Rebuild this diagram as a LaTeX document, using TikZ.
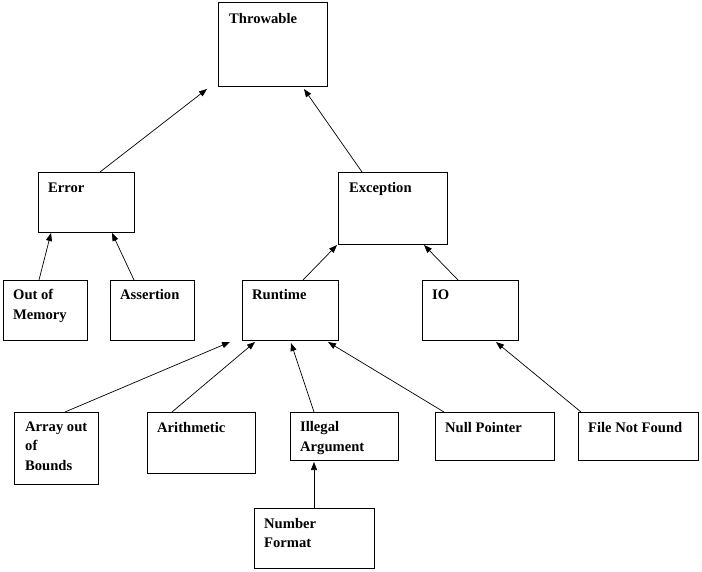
\documentclass[tikz,border=0pt]{standalone}
\usepackage{fontspec}
\setmainfont{Liberation Serif}
\usetikzlibrary{arrows.meta}
\begin{document}
\begin{tikzpicture}[x=1pt,y=-1pt,
  box/.style={draw=black,line width=0.9pt,anchor=north west,inner sep=0pt,outer sep=0pt},
  lbl/.style={anchor=base west,inner sep=0pt,align=left,font=\fontsize{14.6}{19.5}\selectfont\bfseries},
  conn/.style={draw=black,line width=0.7pt,-{Triangle[length=8pt,width=6pt]}}]
\useasboundingbox[fill=white] (0,0) rectangle (702,572);
% boxes
\node[box,minimum width=109pt,minimum height=84pt] (thr) at (218,2) {};
\node[box,minimum width=96pt,minimum height=60pt] (err) at (38,172) {};
\node[box,minimum width=109pt,minimum height=72pt] (exc) at (338,172) {};
\node[box,minimum width=84pt,minimum height=60pt] (oom) at (3,280) {};
\node[box,minimum width=84pt,minimum height=60pt] (ass) at (110,280) {};
\node[box,minimum width=96pt,minimum height=60pt] (run) at (242,280) {};
\node[box,minimum width=96pt,minimum height=60pt] (io) at (422,280) {};
\node[box,minimum width=84pt,minimum height=72pt] (arr) at (14,412) {};
\node[box,minimum width=108pt,minimum height=61pt] (ari) at (147,412) {};
\node[box,minimum width=108pt,minimum height=48pt] (ill) at (290,412) {};
\node[box,minimum width=119pt,minimum height=48pt] (nul) at (435,412) {};
\node[box,minimum width=120pt,minimum height=48pt] (fnf) at (578,412) {};
\node[box,minimum width=120pt,minimum height=60pt] (num) at (254,508) {};
% labels (anchor = baseline of the last line)
\node[lbl] (thrT) at (229,24) {Throwable};
\node[lbl] (errT) at (48,193) {Error};
\node[lbl] (excT) at (349,193) {Exception};
\node[lbl] (oomT) at (13,319.5) {Out of\\Memory};
\node[lbl] (assT) at (120,300) {Assertion};
\node[lbl] (runT) at (252,300) {Runtime};
\node[lbl] (ioT) at (432,300) {IO};
\node[lbl] (arrT) at (25,470) {Array out\\of\\Bounds};
\node[lbl] (ariT) at (157,432) {Arithmetic};
\node[lbl] (illT) at (300,451) {Illegal\\Argument};
\node[lbl] (nulT) at (445,432) {Null Pointer};
\node[lbl] (fnfT) at (588,432) {File Not Found};
\node[lbl] (numT) at (264,547.5) {Number\\Format};
% connectors
\draw[conn] ([xshift=62pt]err.north west) -- ([xshift=-11pt,yshift=-3pt]thr.south west);
\draw[conn] ([xshift=24pt]exc.north west) -- ([xshift=86pt,yshift=-3pt]thr.south west);
\draw[conn] ([xshift=36pt]oom.north west) -- ([xshift=13pt,yshift=-1pt]err.south west);
\draw[conn] ([xshift=24pt]ass.north west) -- ([xshift=74pt,yshift=-1pt]err.south west);
\draw[conn] ([xshift=61pt]run.north west) -- ([xshift=-1pt,yshift=-1pt]exc.south west);
\draw[conn] ([xshift=36pt]io.north west) -- ([xshift=86pt,yshift=-1pt]exc.south west);
\draw[conn] ([xshift=51pt]arr.north west) -- ([xshift=-12pt,yshift=-2pt]run.south west);
\draw[conn] ([xshift=25pt]ari.north west) -- ([xshift=13pt,yshift=-2pt]run.south west);
\draw[conn] ([xshift=24pt]ill.north west) -- ([xshift=49pt,yshift=-3pt]run.south west);
\draw[conn] ([xshift=9pt]nul.north west) -- ([xshift=86pt,yshift=-2pt]run.south west);
\draw[conn] ([xshift=3pt]fnf.north west) -- ([xshift=74pt,yshift=-2pt]io.south west);
\draw[conn] ([xshift=60pt]num.north west) -- ([xshift=24pt,yshift=-2pt]ill.south west);
\end{tikzpicture}
\end{document}
